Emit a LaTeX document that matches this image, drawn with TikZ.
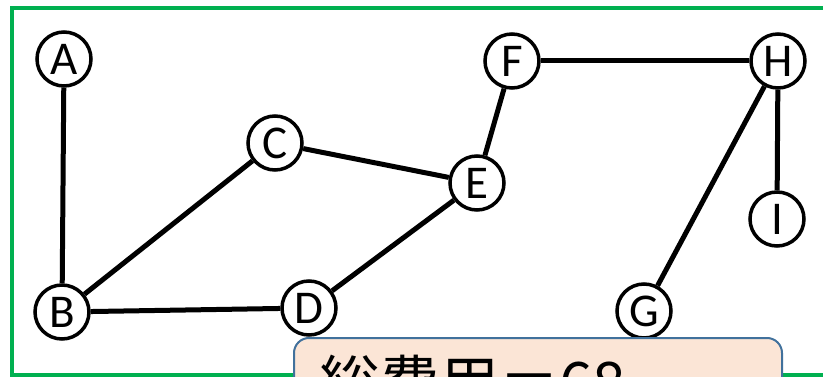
\documentclass[tikz,border=0pt]{standalone}
\usepackage{fontspec}
\setmainfont{Carlito}
\newfontfamily\cjk{Noto Sans CJK JP}

\definecolor{frameGreen}{RGB}{0,176,80}
\definecolor{noteFill}{RGB}{251,229,214}
\definecolor{noteLine}{RGB}{65,113,156}

\tikzset{
    vertex/.style={circle, draw, line width=3.5pt, fill=white, inner sep=0pt,
        minimum size=54pt, font=\fontsize{47}{50}\selectfont},
    edge/.style={line width=5pt}
}

\begin{document}
\begin{tikzpicture}[x=1pt,y=-1pt]

\useasboundingbox (0,0) rectangle (823,377);
\clip (0,0) rectangle (823,377);

\draw [frameGreen, line width=4pt] (12,8) rectangle (860,375);

\foreach \n/\x/\y in
{A/64/59,
    B/62/312,
    C/275/143,
    D/309/308,
    E/477/183,
    F/512/61,
    G/644/311,
    H/778/61,
    I/777/219
}
{
    \node[vertex] (\n) at (\x,\y) {\n};
};

\foreach \u/\v in
{A/B, B/C, B/D, C/E, D/E, E/F, F/H, H/G, H/I}
{
    \draw[edge] (\u) -- (\v);
};

% cost box along the bottom
\draw [noteLine, fill=noteFill, line width=2pt, rounded corners=15pt]
    (294,338) rectangle (782,440);
\node[anchor=base west, inner sep=0pt, font=\cjk\fontsize{60}{70}\selectfont]
    (cost) at (319,405) {総費用＝68};

\end{tikzpicture}
\end{document}
